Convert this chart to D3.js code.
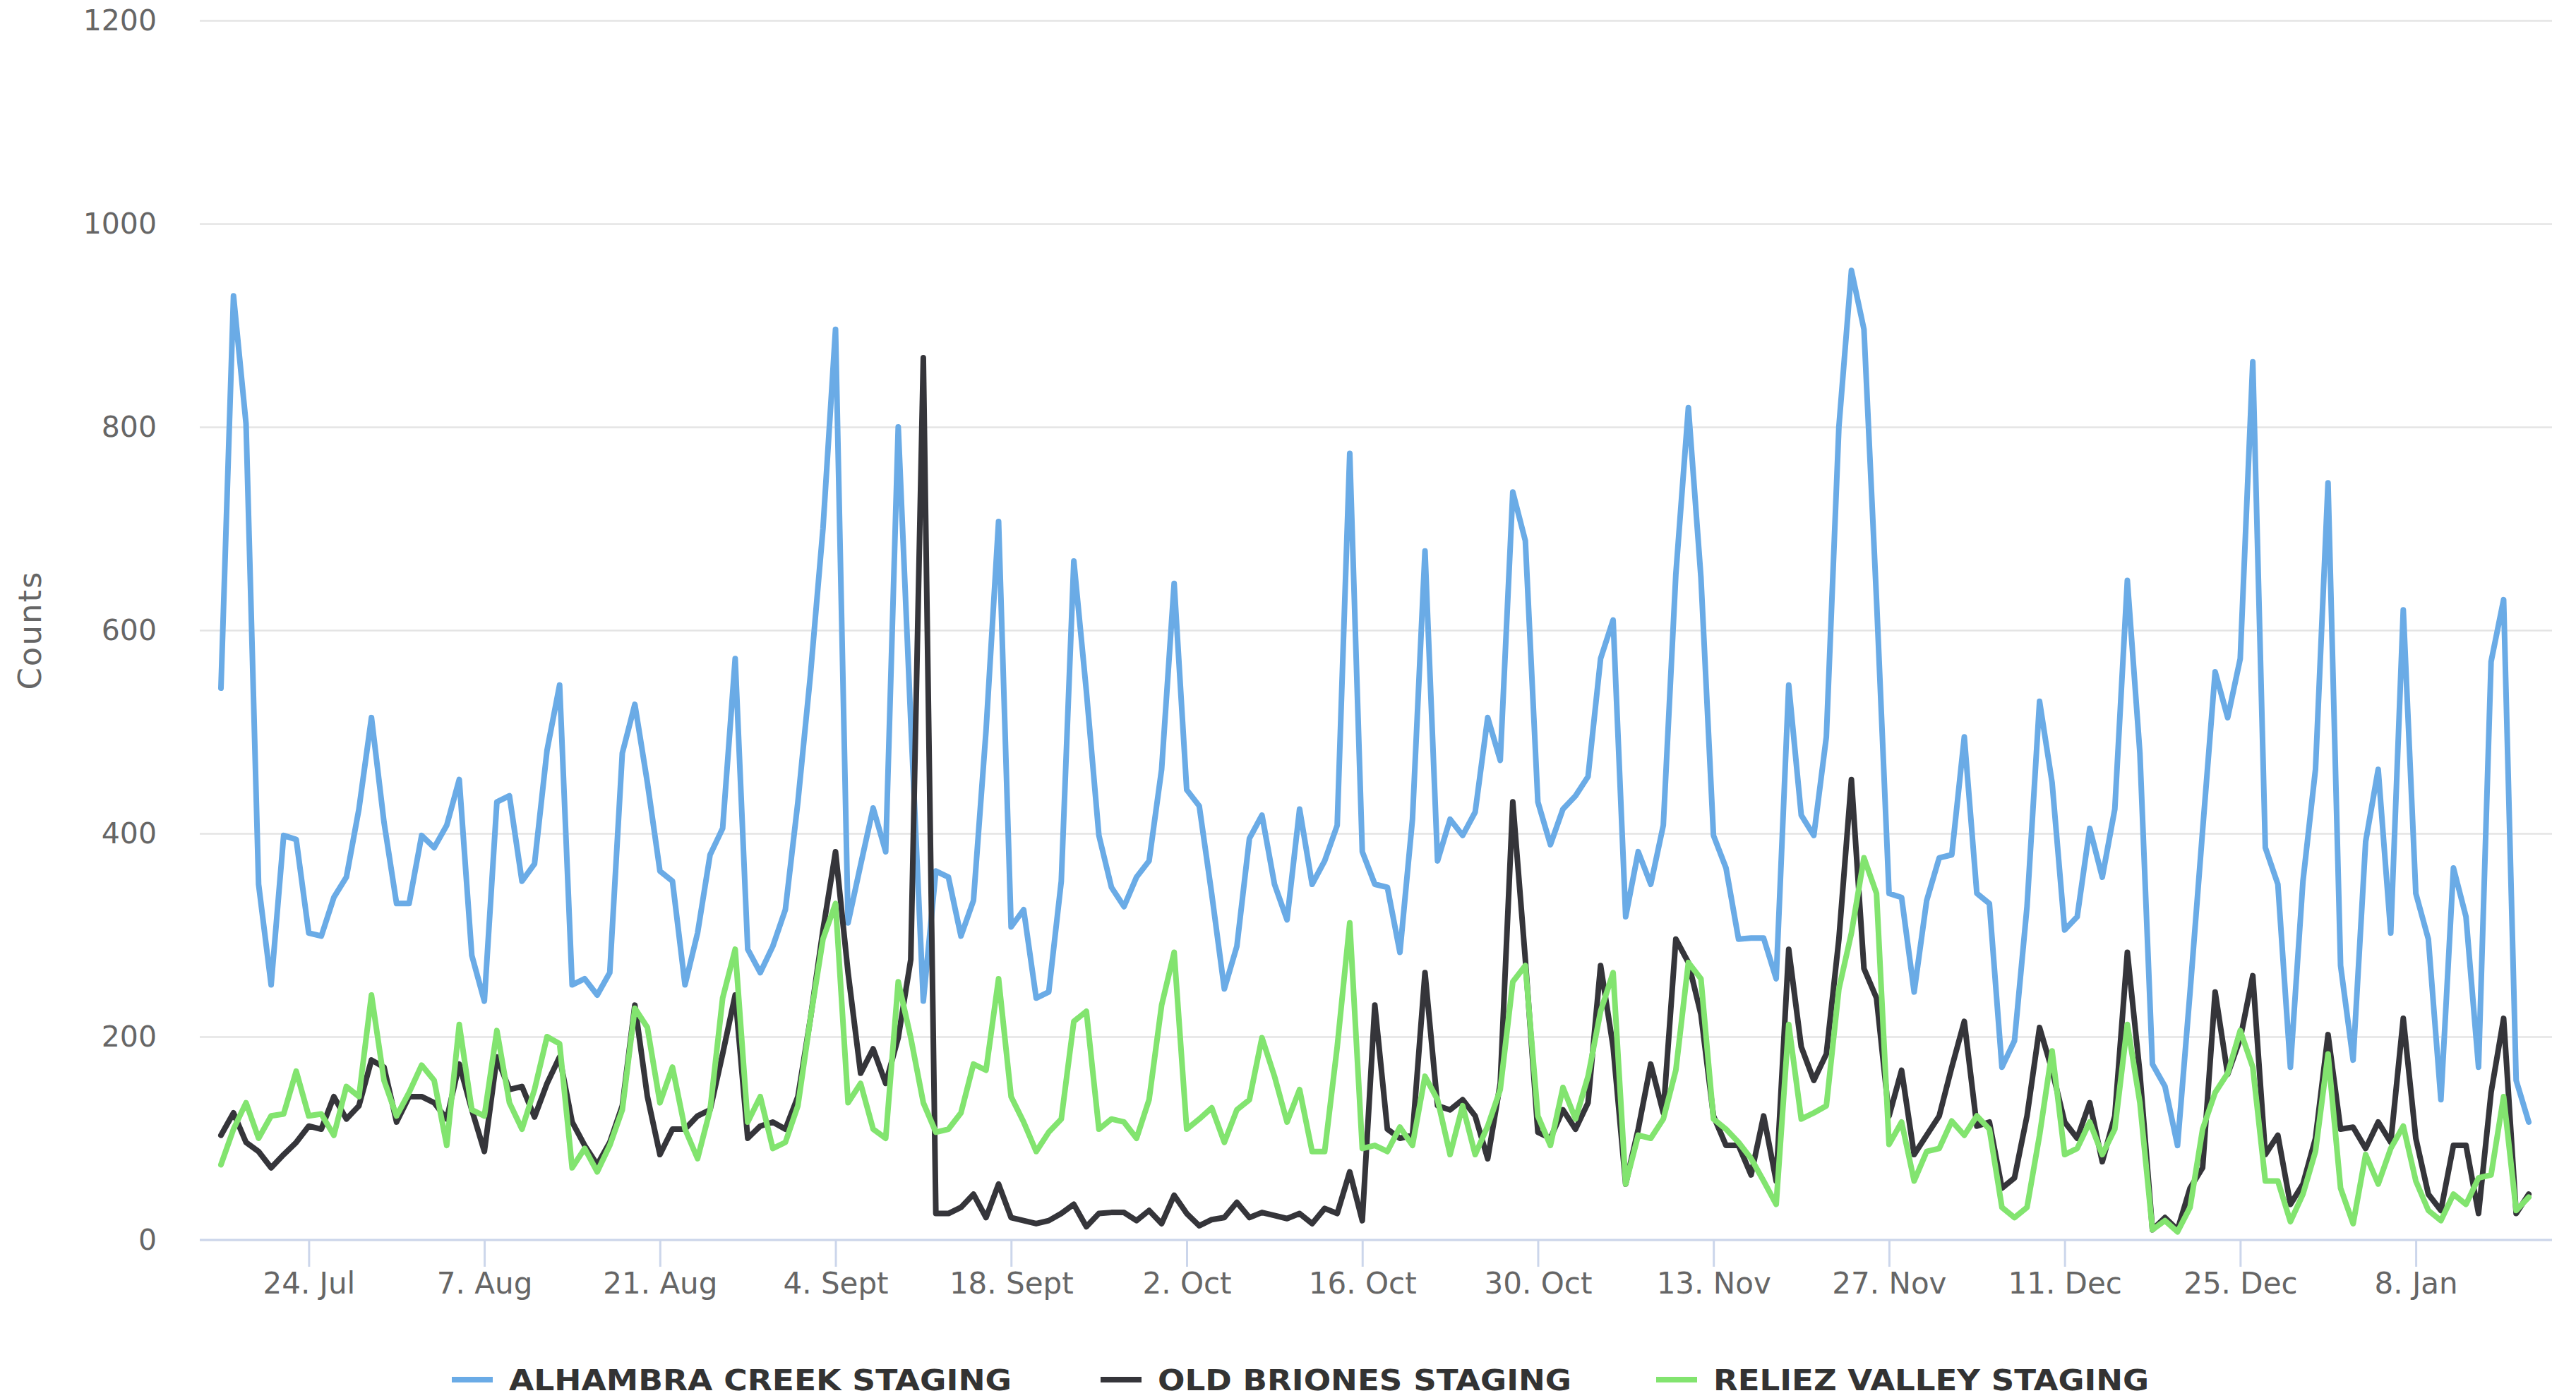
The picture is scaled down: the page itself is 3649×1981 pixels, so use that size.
<!DOCTYPE html>
<html>
<head>
  <meta charset="utf-8" />
  <title>Trail counts</title>
  <script type="text/javascript" src="https://cdn.jsdelivr.net/npm/d3@7/dist/d3.min.js"></script>
  <style>
    body{
      margin: 0;
      background: white;
    }
  </style>
</head>
<body>
  <script type="text/javascript">
    // - - - - - DATA - - - - - //
    //daily counts, first day 17 Jul 2023
    var startDate = new Date(2023, 6, 17);
    var seriesNames = ["ALHAMBRA CREEK STAGING", "OLD BRIONES STAGING", "RELIEZ VALLEY STAGING"];
    var alhambra = [543,929,803,350,251,398,394,302,299,337,357,424,514,411,331,331,398,386,408,453,
      280,235,431,437,353,370,482,546,251,257,241,263,479,527,450,363,353,251,302,379,
      405,572,286,263,289,325,431,556,700,896,312,369,425,382,800,510,235,363,357,299,
      334,501,707,308,325,238,244,353,668,540,398,347,328,357,373,463,646,443,427,340,
      247,289,395,418,350,315,424,350,373,408,774,382,350,347,283,414,678,373,414,398,
      421,514,472,736,688,431,389,424,437,456,572,610,318,382,350,408,655,819,652,398,
      366,296,297,297,257,546,418,398,495,800,954,896,630,341,337,244,334,376,379,495,
      341,331,170,196,328,530,450,305,318,405,357,424,649,479,173,151,93,244,403,559,
      514,572,864,386,350,170,353,463,745,270,177,392,463,302,620,341,296,138,366,318,
      170,569,630,157,116];
    var briones = [103,125,96,87,71,84,96,112,109,141,119,132,177,170,116,141,141,135,119,173,
      128,87,180,148,151,121,154,180,116,93,74,96,132,231,141,84,109,109,122,128,
      183,241,100,112,116,109,141,218,305,382,263,164,188,154,199,276,868,26,26,32,
      45,22,55,22,19,16,19,26,35,13,26,27,27,19,29,16,44,26,14,20,
      22,37,22,27,24,21,26,16,31,26,67,19,231,109,100,103,263,132,128,138,
      122,80,154,431,276,106,100,128,109,135,270,190,55,109,173,125,296,273,222,122,
      93,93,64,122,58,286,190,157,183,296,453,267,238,122,167,84,103,122,170,215,
      112,116,51,61,122,209,167,116,100,135,77,122,283,164,10,22,10,51,71,244,
      163,198,260,84,103,35,55,100,202,109,111,90,116,96,218,100,45,29,93,93,
      26,145,218,26,45];
    var reliez = [74,109,135,100,122,124,166,122,124,103,151,141,241,157,122,145,172,157,93,212,
      128,122,206,135,109,148,200,193,71,90,67,93,128,228,209,135,170,109,80,128,
      238,286,116,141,90,96,132,218,296,331,135,154,109,100,254,199,135,106,109,125,
      173,167,257,141,116,87,106,119,215,225,109,119,116,100,138,231,283,109,119,130,
      96,128,138,199,161,116,148,87,87,190,312,90,93,87,111,93,161,138,84,132,
      84,112,148,254,270,122,93,150,119,161,225,263,55,103,100,119,167,273,257,119,
      109,96,80,58,35,212,119,125,132,247,302,376,341,94,116,58,87,90,117,103,
      122,109,32,22,32,103,186,84,90,116,84,109,212,135,10,19,8,32,109,145,
      164,206,170,58,58,18,45,87,183,51,16,84,55,90,112,58,29,19,45,35,
      61,64,141,29,42];
    var yTicks = [0, 200, 400, 600, 800, 1000, 1200];
    var tickLabels = ["24. Jul","7. Aug","21. Aug","4. Sept","18. Sept","2. Oct","16. Oct",
      "30. Oct","13. Nov","27. Nov","11. Dec","25. Dec","8. Jan"];
    var colors = ["#6aabe6", "#35353a", "#82e46f"];

    // - - - - - CANVAS - - - - - //
    var w = 3649;
    var h = 1981;
    var plotLeft = 283;
    var plotRight = 3615;
    var plotTop = 29;
    var plotBottom = 1757;
    var font = "'DejaVu Sans', sans-serif";

    var svg = d3.select("body")
      .append("svg")
      .attr("width", w)
      .attr("height", h)
      .style("background", "white");

    var dates = alhambra.map(function(d, i){
      return d3.timeDay.offset(startDate, i);
    });
    var series = [alhambra, briones, reliez];

    // - - - - - SCALES - - - - - //
    var x = d3.scaleTime()
      .domain([startDate, dates[dates.length - 1]])
      .range([313, 3582]);
    var y = d3.scaleLinear()
      .domain([0, 1200])
      .range([plotBottom, plotTop]);

    // - - - - - GRID + Y AXIS - - - - - //
    var yAxis = d3.axisLeft(y)
      .tickValues(yTicks)
      .tickSize(-(plotRight - plotLeft))
      .tickPadding(61)
      .tickFormat(d3.format("d"));
    var yg = svg.append("g")
      .attr("transform", "translate(" + plotLeft + ",0)")
      .call(yAxis);
    yg.select(".domain").remove();
    yg.selectAll(".tick line")
      .attr("stroke", "#e4e4e4")
      .attr("stroke-width", 2.5);
    yg.selectAll(".tick text")
      .attr("font-family", font)
      .attr("font-size", "41px")
      .attr("fill", "#666666");

    // y title
    svg.append("text")
      .attr("transform", "translate(58," + ((plotTop + plotBottom) / 2) + ") rotate(-90)")
      .attr("text-anchor", "middle")
      .attr("font-family", font)
      .attr("font-size", "45px")
      .attr("letter-spacing", "2px")
      .attr("fill", "#666666")
      .text("Counts");

    // - - - - - X AXIS - - - - - //
    var tickDates = tickLabels.map(function(d, i){
      return d3.timeDay.offset(new Date(2023, 6, 24), i * 14);
    });
    var xAxis = d3.axisBottom(x)
      .tickValues(tickDates)
      .tickSize(38)
      .tickPadding(8)
      .tickFormat(function(d, i){ return tickLabels[i]; });
    var xg = svg.append("g")
      .attr("transform", "translate(0," + plotBottom + ")")
      .call(xAxis);
    xg.select(".domain")
      .attr("d", "M" + plotLeft + ",0H" + plotRight)
      .attr("stroke", "#ccd6eb")
      .attr("stroke-width", 3);
    xg.selectAll(".tick line")
      .attr("stroke", "#ccd6eb")
      .attr("stroke-width", 3);
    xg.selectAll(".tick text")
      .attr("font-family", font)
      .attr("font-size", "42px")
      .attr("fill", "#666666");

    // - - - - - LINES - - - - - //
    var line = d3.line()
      .x(function(d, i){ return x(dates[i]); })
      .y(function(d){ return y(d); });

    svg.selectAll("path.series")
      .data(series)
      .enter()
      .append("path")
      .attr("class", "series")
      .attr("d", line)
      .attr("fill", "none")
      .attr("stroke", function(d, i){ return colors[i]; })
      .attr("stroke-width", 8)
      .attr("stroke-linejoin", "round")
      .attr("stroke-linecap", "round");

    // - - - - - LEGEND - - - - - //
    var legendX = [640, 1559, 2346];
    var legendLen = [712, 586, 617];
    var legend = svg.selectAll("g.legend")
      .data(seriesNames)
      .enter()
      .append("g")
      .attr("class", "legend")
      .attr("transform", function(d, i){ return "translate(" + legendX[i] + ",1955)"; });
    legend.append("line")
      .attr("x1", 0)
      .attr("x2", 58)
      .attr("y1", 0)
      .attr("y2", 0)
      .attr("stroke", function(d, i){ return colors[i]; })
      .attr("stroke-width", 8);
    legend.append("text")
      .attr("x", 81)
      .attr("y", 15)
      .attr("font-family", font)
      .attr("font-size", "41px")
      .attr("font-weight", "bold")
      .attr("textLength", function(d, i){ return legendLen[i]; })
      .attr("lengthAdjust", "spacingAndGlyphs")
      .attr("fill", "#333333")
      .text(function(d){ return d; });
  </script>
</body>
</html>
